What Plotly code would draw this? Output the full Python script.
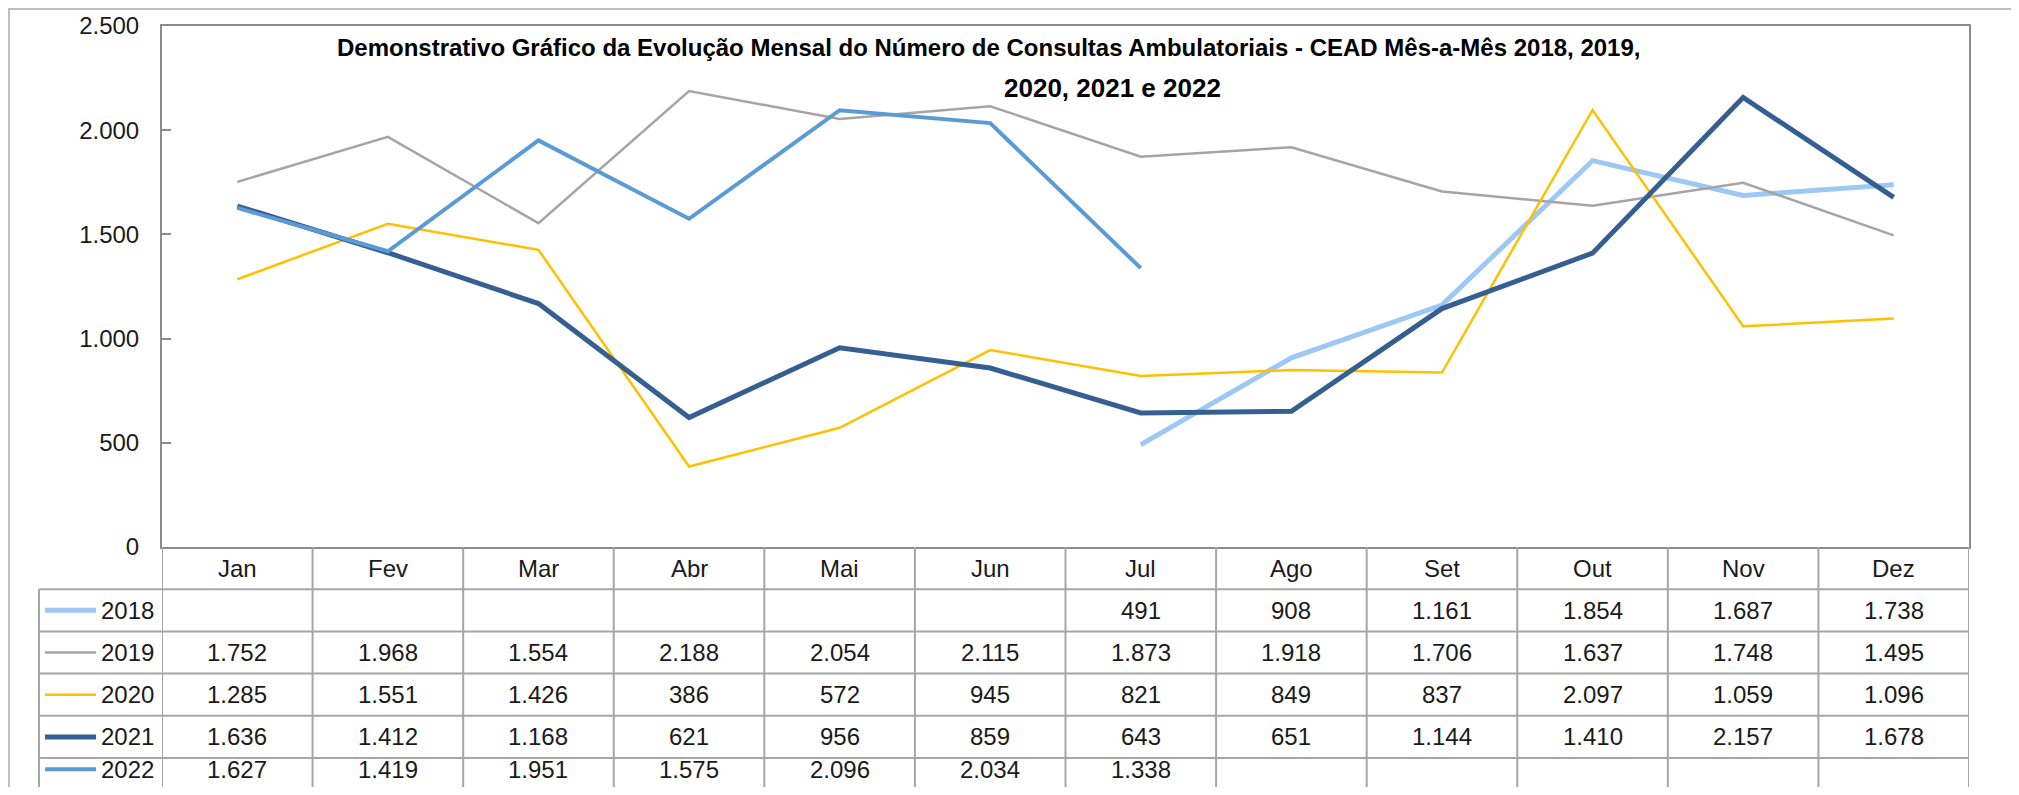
import plotly.graph_objects as go

months = ["Jan", "Fev", "Mar", "Abr", "Mai", "Jun", "Jul", "Ago", "Set", "Out", "Nov", "Dez"]
years = ["2018", "2019", "2020", "2021", "2022"]
v2018 = [None, None, None, None, None, None, 491, 908, 1161, 1854, 1687, 1738]
v2019 = [1752, 1968, 1554, 2188, 2054, 2115, 1873, 1918, 1706, 1637, 1748, 1495]
v2020 = [1285, 1551, 1426, 386, 572, 945, 821, 849, 837, 2097, 1059, 1096]
v2021 = [1636, 1412, 1168, 621, 956, 859, 643, 651, 1144, 1410, 2157, 1678]
v2022 = [1627, 1419, 1951, 1575, 2096, 2034, 1338, None, None, None, None, None]
y_ticks = [0, 500, 1000, 1500, 2000, 2500]
title_line1 = "Demonstrativo Gráfico da Evolução Mensal do Número de Consultas Ambulatoriais - CEAD Mês-a-Mês 2018, 2019,"
title_line2 = "2020, 2021 e 2022"

series = [v2018, v2019, v2020, v2021, v2022]
colors = ["#9DC8F3", "#A5A5A5", "#FFC000", "#365F91", "#5B9BD5"]
widths = [5, 2.5, 2.5, 5, 4]

# page has an 8px body margin: draw the figure 8px smaller and shift coordinates
OFF = 8
W, H = 2019 - 2 * OFF, 795 - 2 * OFF


def px(x):
    return (x - OFF) / W


def py(y):
    return (H - (y - OFF)) / H


PL, PR, PT, PB = 162, 1969, 26, 547   # plot area (screen pixels)
ROW_H = 42.2
FONT = "Liberation Sans"
TXT = "#1A1A1A"
GRID = "#A6A6A6"

fig = go.Figure()
xs = list(range(len(months)))
for name, vals, c, w in zip(years, series, colors, widths):
    fig.add_trace(go.Scatter(x=xs, y=vals, mode="lines", name=name,
                             line=dict(color=c, width=w), connectgaps=False,
                             showlegend=False, hoverinfo="skip"))

y2_bottom = -0.5 + (H + OFF - PB) / ROW_H

fig.update_layout(
    width=W, height=H, autosize=False, showlegend=False,
    margin=dict(l=0, r=0, t=0, b=0, pad=0, autoexpand=False),
    paper_bgcolor="white", plot_bgcolor="white",
    separators=",.",
    font=dict(family=FONT, size=24, color=TXT),
    xaxis=dict(domain=[px(PL), px(PR)], range=[-0.5, len(months) - 0.5],
               automargin=False,
               showgrid=False, zeroline=False, showticklabels=False,
               showline=True, mirror=True, linecolor="#8C8C8C", linewidth=2,
               ticks=""),
    yaxis=dict(domain=[py(PB), py(PT)], range=[0, 2500], automargin=False,
               tickvals=y_ticks, tickformat=",d", showgrid=False, zeroline=False,
               showline=True, mirror=True, linecolor="#8C8C8C", linewidth=2,
               ticks="inside", ticklen=9, tickcolor="#8C8C8C", tickwidth=1.5,
               ticklabelstandoff=16,
               tickfont=dict(family=FONT, size=24, color=TXT)),
    yaxis2=dict(domain=[0, py(PB)], range=[y2_bottom, -0.5], automargin=False,
                anchor="x", visible=False, showgrid=False, zeroline=False),
)


def row_center(r):
    # keep the last (partly visible) row fully inside the picture
    return min(r + 1, y2_bottom - 0.42)


shapes = []
# outer frame
shapes.append(dict(type="line", xref="paper", yref="paper", x0=px(8), x1=1, y0=py(9), y1=py(9),
                   line=dict(color="#BFBFBF", width=2)))
shapes.append(dict(type="line", xref="paper", yref="paper", x0=px(9), x1=px(9), y0=0, y1=py(9),
                   line=dict(color="#BFBFBF", width=2)))
# table vertical lines
for i in range(len(months) + 1):
    shapes.append(dict(type="line", xref="x", yref="y2", x0=i - 0.5, x1=i - 0.5, y0=-0.5, y1=y2_bottom,
                       line=dict(color=GRID, width=2)))
# legend column left line
shapes.append(dict(type="line", xref="paper", yref="y2", x0=px(39), x1=px(39), y0=0.5, y1=y2_bottom,
                   line=dict(color=GRID, width=2)))
# table horizontal lines
for r in range(len(years)):
    shapes.append(dict(type="line", xref="paper", yref="y2", x0=px(39), x1=px(PR), y0=r + 0.5, y1=r + 0.5,
                       line=dict(color=GRID, width=2)))
# legend keys
for r, (c, w) in enumerate(zip(colors, widths)):
    yc = row_center(r)
    shapes.append(dict(type="line", xref="paper", yref="y2", x0=px(45), x1=px(96), y0=yc, y1=yc,
                       line=dict(color=c, width=w)))
fig.update_layout(shapes=shapes)

ann = []
ann.append(dict(text="<b>" + title_line1 + "</b>", xref="paper", yref="paper", x=px(988), y=py(47),
                xanchor="center", yanchor="middle", showarrow=False,
                font=dict(family=FONT, size=24, color="black")))
ann.append(dict(text="<b>" + title_line2 + "</b>", xref="paper", yref="paper", x=px(1112), y=py(88),
                xanchor="center", yanchor="middle", showarrow=False,
                font=dict(family=FONT, size=26, color="black")))
for i, m in enumerate(months):
    ann.append(dict(text=m, xref="x", yref="y2", x=i, y=0, showarrow=False,
                    xanchor="center", yanchor="middle", font=dict(size=24, color=TXT)))
for r, (name, vals) in enumerate(zip(years, series)):
    yc = row_center(r)
    ann.append(dict(text=name, xref="paper", yref="y2", x=px(156), y=yc, showarrow=False,
                    xanchor="right", yanchor="middle", font=dict(size=24, color=TXT)))
    for i, v in enumerate(vals):
        if v is None:
            continue
        ann.append(dict(text=f"{v:,}".replace(",", "."), xref="x", yref="y2", x=i, y=yc,
                        showarrow=False, xanchor="center", yanchor="middle",
                        font=dict(size=24, color=TXT)))
fig.update_layout(annotations=ann)

fig.write_html("out.html")
